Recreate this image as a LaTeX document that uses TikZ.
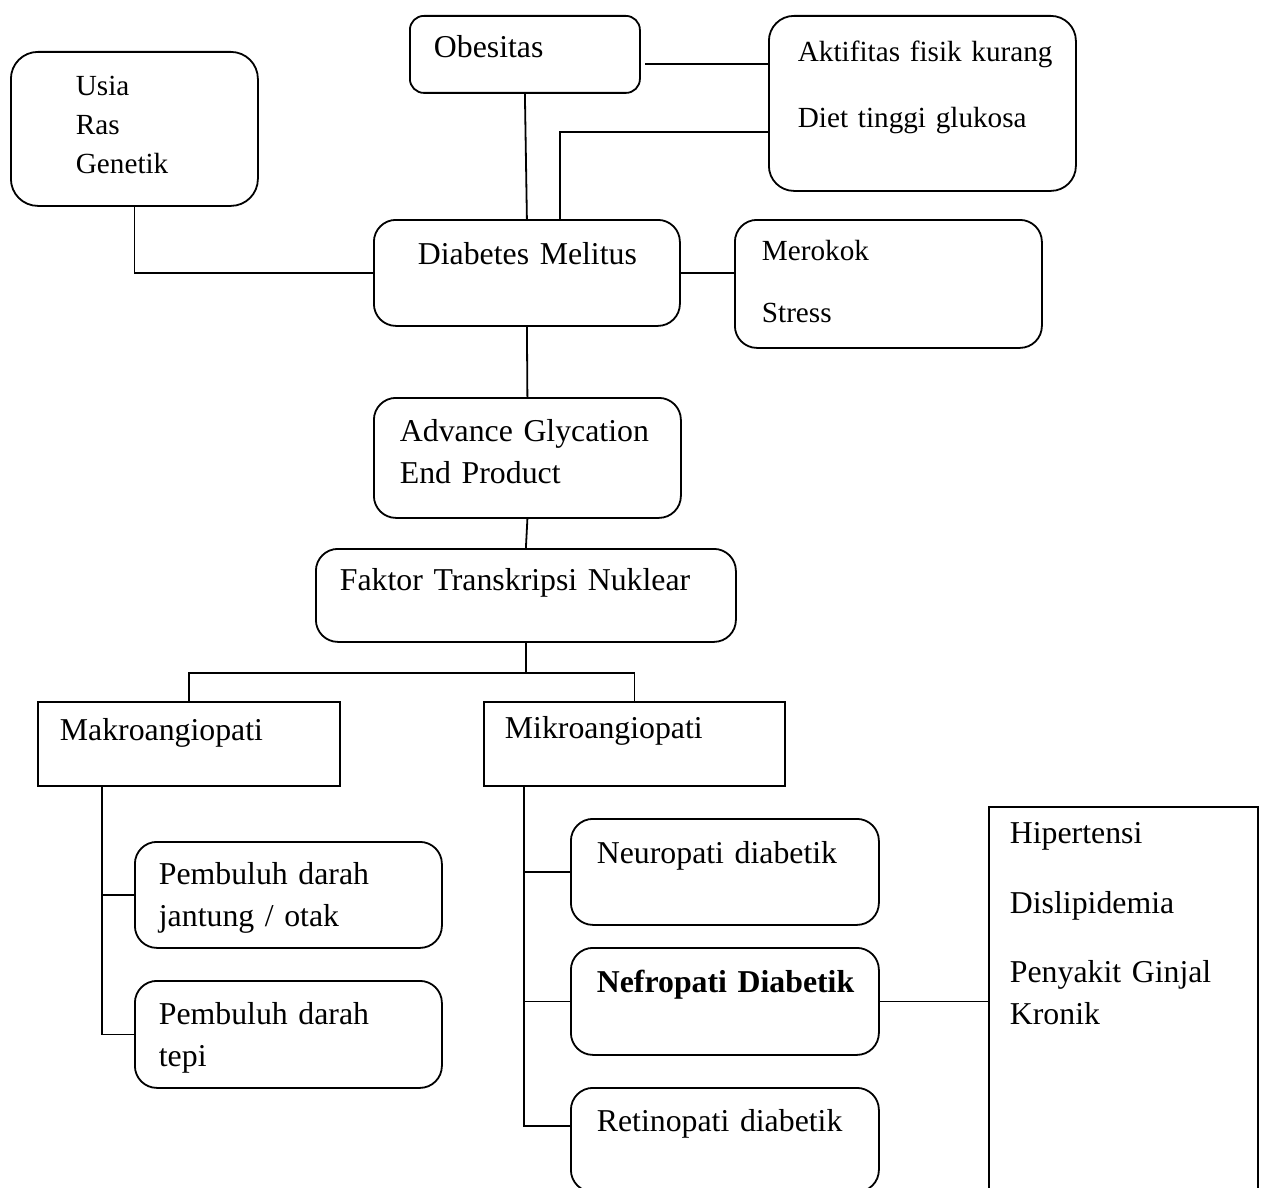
\documentclass[tikz,border=0pt]{standalone}
\usepackage{fontspec}
\setmainfont{Liberation Serif}
\usepackage{tikz}

\newcommand{\besar}{\fontsize{31.8}{42}\selectfont}
\newcommand{\kecil}{\fontsize{29.2}{39}\selectfont}

\tikzset{
	kotak/.style={draw, line width=1.8pt, rounded corners=22pt, anchor=north west, inner ysep=0pt, align=left, font=\besar},
	siku/.style={sharp corners},
	ukuran/.style n args={4}{inner xsep=#1, text width=#2, text height=#3, text depth=#4},
	garis/.style={line width=1.8pt}
}

\begin{document}
\begin{tikzpicture}[x=1pt, y=-1pt]
			\useasboundingbox (0,0) rectangle (1261,1188);
			
			\node[kotak, rounded corners=27pt, font=\kecil, ukuran={65pt}{117pt}{44pt}{110pt}] (usia) at (10,51) {Usia\\Ras\\Genetik};
			\node[kotak, rounded corners=14pt, ukuran={24pt}{182pt}{42pt}{35pt}] (obesitas) at (409,15) {Obesitas};
			\node[kotak, rounded corners=25pt, font=\kecil, ukuran={29pt}{249pt}{46pt}{129pt}] (aktifitas) at (768,15) {\mbox{Aktifitas fisik kurang}\\[27pt]Diet tinggi glukosa};
			
			\node[kotak, ukuran={44pt}{218pt}{45pt}{61pt}] (dm) at (373,219) {\mbox{Diabetes Melitus}};
			\node[kotak, font=\kecil, ukuran={27pt}{253pt}{41pt}{87pt}] (merokok) at (734,219) {Merokok\\[23pt]Stress};
			
			\node[kotak, ukuran={26pt}{255pt}{44pt}{76pt}] (age) at (373,397) {Advance Glycation\\End Product};
			\node[kotak, ukuran={24pt}{372pt}{42pt}{51pt}] (faktor) at (315,548) {Faktor Transkripsi Nuklear};
			
			\node[kotak, siku, ukuran={22pt}{258pt}{39pt}{45pt}] (makro) at (37,701) {Makroangiopati};
			\node[kotak, siku, ukuran={21pt}{259pt}{37pt}{47pt}] (mikro) at (483,701) {Mikroangiopati};
			
			\node[kotak, ukuran={24pt}{259pt}{43pt}{63pt}] (jantung) at (134,841) {Pembuluh darah\\jantung / otak};
			\node[kotak, ukuran={24pt}{259pt}{44pt}{63pt}] (tepi) at (134,980) {Pembuluh darah\\tepi};
			
			\node[kotak, ukuran={26pt}{256pt}{45pt}{61pt}] (neuro) at (570,818) {Neuropati diabetik};
			\node[kotak, ukuran={26pt}{256pt}{45pt}{62pt}] (nefro) at (570,947) {\mbox{\bfseries Nefropati Diabetik}};
			\node[kotak, ukuran={26pt}{256pt}{44pt}{60pt}] (retino) at (570,1087) {Retinopati diabetik};
			
			\node[kotak, siku, ukuran={21pt}{227pt}{37pt}{363pt}] (kanan) at (988,806) {Hipertensi\\[28pt]Dislipidemia\\[27pt]Penyakit Ginjal\\Kronik};
			
			\draw[garis] (usia.south) |- (dm.west);
			\draw[garis] (obesitas.south) -- (dm.north);
			\coordinate (ob) at (645,64);
			\draw[garis] (ob) -- (ob -| aktifitas.west);
			\coordinate (dt) at (560,132);
			\draw[garis] (dt -| aktifitas.west) -- (dt) -- (dt |- dm.north);
			\draw[garis] (dm.east) -- (dm.east -| merokok.west);
			
			\draw[garis] (dm.south) -- (age.north);
			\draw[garis] (age.south) -- (faktor.north);
			\draw[garis] (faktor.south) -- ++(0,30) coordinate (cabang);
			\draw[garis] (makro.north) |- (cabang) -| (mikro.north);
			
			\draw[garis] ([xshift=65pt]makro.south west) |- (tepi.west);
			\draw[garis] (jantung.west) -- ++(-32,0);
			
			\draw[garis] ([xshift=41pt]mikro.south west) |- ([yshift=-39pt]retino.north west);
			\draw[garis] (neuro.west) -- ++(-46,0);
			\draw[garis] (nefro.west) -- ++(-46,0);
			\draw[garis] (nefro.east) -- (nefro.east -| kanan.west);
\end{tikzpicture}
\end{document}
